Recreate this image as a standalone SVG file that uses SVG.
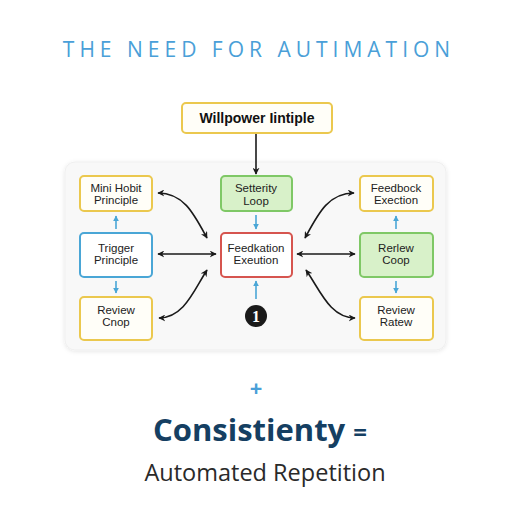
<svg xmlns="http://www.w3.org/2000/svg" width="512" height="512" viewBox="0 0 512 512">
<defs>
<style>
.nt{font-family:"Liberation Sans",Arial,sans-serif;font-size:11.5px;fill:#222;text-anchor:middle}
.yel{fill:#fffef8;stroke:#ebc84e;stroke-width:2}
.blu{fill:#ffffff;stroke:#4aa6d6;stroke-width:2}
.grn{fill:#d8f1c9;stroke:#7fc866;stroke-width:2}
.red{fill:#ffffff;stroke:#d6554f;stroke-width:2}
.blk{fill:none;stroke:#1a1a1a;stroke-width:1.6}
.ba{fill:none;stroke:#4aa6d6;stroke-width:1.6}
</style>
<marker id="ah" viewBox="0 0 10 10" refX="9" refY="5" markerWidth="7" markerHeight="7" orient="auto-start-reverse" markerUnits="userSpaceOnUse">
<path d="M0,0 L10,5 L0,10 L3,5 Z" fill="#1a1a1a"/>
</marker>
<marker id="bh" viewBox="0 0 10 10" refX="9" refY="5" markerWidth="6" markerHeight="6" orient="auto" markerUnits="userSpaceOnUse">
<path d="M0,0 L10,5 L0,10 Z" fill="#4aa6d6"/>
</marker>
<filter id="sh" x="-10%" y="-10%" width="120%" height="120%">
<feDropShadow dx="0" dy="1" stdDeviation="2" flood-color="#000" flood-opacity="0.1"/>
</filter>
</defs>
<rect width="512" height="512" fill="#ffffff"/>
<text x="259" y="57" font-family="Open Sans, sans-serif" font-size="21" letter-spacing="5" fill="#4a9fd8" text-anchor="middle">THE NEED FOR AUTIMATION</text>

<rect x="65" y="162" width="381" height="188" rx="10" fill="#f8f8f8" stroke="#efefef" filter="url(#sh)"/>

<g id="willpower">
<rect class="yel" x="182" y="103" width="150" height="30" rx="4"/>
<text x="257" y="123" font-family="Liberation Sans, Arial, sans-serif" font-size="14" font-weight="bold" fill="#111" text-anchor="middle">Willpower Iintiple</text>
</g>
<g id="mini-hobit">
<rect class="yel" x="80" y="176" width="72" height="35" rx="4"/>
<text class="nt" x="116" y="192">Mini Hobit</text>
<text class="nt" x="116" y="204">Principle</text>
</g>
<g id="trigger">
<rect class="blu" x="80" y="233" width="72" height="44" rx="4"/>
<text class="nt" x="116" y="252">Trigger</text>
<text class="nt" x="116" y="264">Principle</text>
</g>
<g id="review-cnop">
<rect class="yel" x="80" y="297" width="72" height="43" rx="4"/>
<text class="nt" x="116" y="314">Review</text>
<text class="nt" x="116" y="326">Cnop</text>
</g>
<g id="setterity">
<rect class="grn" x="221" y="176" width="71" height="35" rx="4"/>
<text class="nt" x="256" y="192">Setterity</text>
<text class="nt" x="256" y="205">Loop</text>
</g>
<g id="feedkation">
<rect class="red" x="221" y="233" width="71" height="44" rx="4"/>
<text class="nt" x="256" y="252">Feedkation</text>
<text class="nt" x="256" y="264">Exeution</text>
</g>
<g id="num1">
<circle cx="256" cy="316" r="11" fill="#1a1a1a"/>
<text x="256" y="322" font-family="Liberation Serif, serif" font-size="16" font-weight="bold" fill="#fff" text-anchor="middle">1</text>
</g>
<g id="feedbock">
<rect class="yel" x="360" y="176" width="73" height="35" rx="4"/>
<text class="nt" x="396" y="192">Feedbock</text>
<text class="nt" x="396" y="204">Exection</text>
</g>
<g id="rerlew">
<rect class="grn" x="360" y="233" width="73" height="44" rx="4"/>
<text class="nt" x="396" y="252">Rerlew</text>
<text class="nt" x="396" y="264">Coop</text>
</g>
<g id="review-ratew">
<rect class="yel" x="360" y="297" width="73" height="43" rx="4"/>
<text class="nt" x="396" y="314">Review</text>
<text class="nt" x="396" y="326">Ratew</text>
</g>

<g id="connectors">
<path class="blk" d="M256,134 L256,174" marker-end="url(#ah)"/>
<path class="blk" d="M158,193 C184,193 194,214 207,238" marker-start="url(#ah)" marker-end="url(#ah)"/>
<path class="blk" d="M158,254 L216,254" marker-start="url(#ah)" marker-end="url(#ah)"/>
<path class="blk" d="M159,318 C184,318 194,290 207,270" marker-start="url(#ah)" marker-end="url(#ah)"/>
<path class="blk" d="M354,193 C328,193 318,214 305,238" marker-start="url(#ah)" marker-end="url(#ah)"/>
<path class="blk" d="M297,254 L355,254" marker-start="url(#ah)" marker-end="url(#ah)"/>
<path class="blk" d="M355,318 C330,318 320,290 306,270" marker-start="url(#ah)" marker-end="url(#ah)"/>
<path class="ba" d="M116,229 L116,216" marker-end="url(#bh)"/>
<path class="ba" d="M116,281 L116,293" marker-end="url(#bh)"/>
<path class="ba" d="M256,215 L256,229" marker-end="url(#bh)"/>
<path class="ba" d="M256,299 L256,281" marker-end="url(#bh)"/>
<path class="ba" d="M396,229 L396,216" marker-end="url(#bh)"/>
<path class="ba" d="M396,281 L396,293" marker-end="url(#bh)"/>
</g>

<text x="256" y="396" font-family="Open Sans, sans-serif" font-size="22" font-weight="bold" fill="#4a9fd8" text-anchor="middle">+</text>
<text x="260" y="441" font-family="Open Sans, sans-serif" font-size="31" font-weight="bold" fill="#153f62" text-anchor="middle">Consistienty <tspan font-size="24">=</tspan></text>
<text x="265" y="481" font-family="Open Sans, sans-serif" font-size="23.5" fill="#2a2a2a" text-anchor="middle">Automated Repetition</text>
</svg>
